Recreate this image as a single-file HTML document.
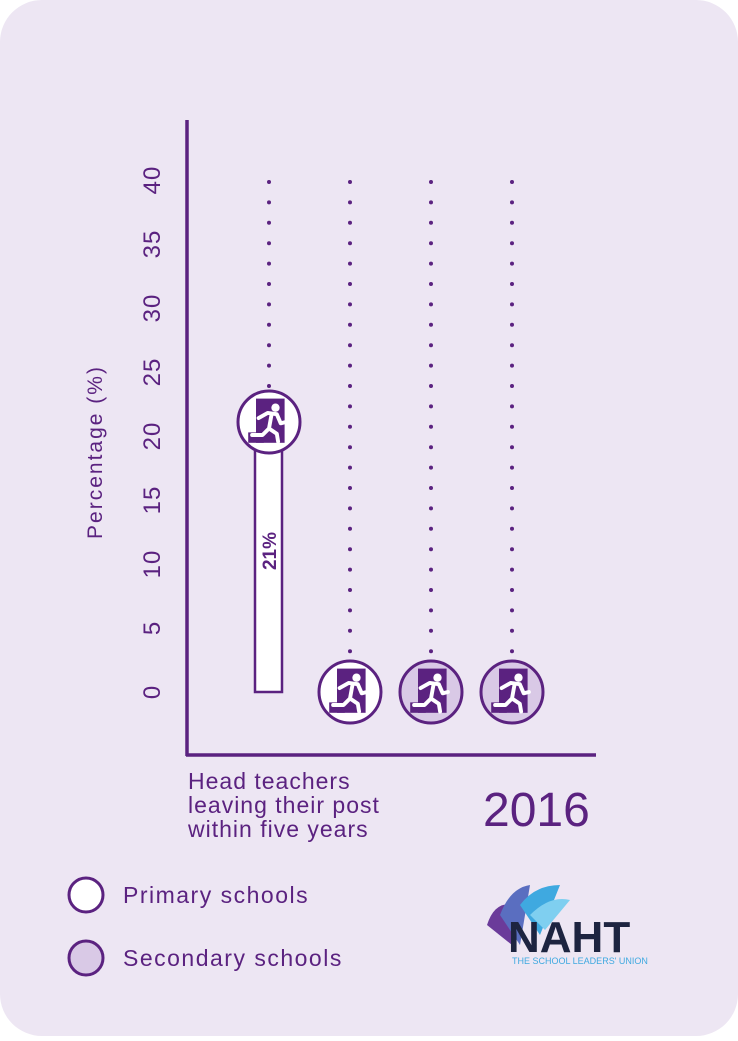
<!DOCTYPE html>
<html><head><style>
html,body{margin:0;padding:0;background:#fff;}
body{width:738px;height:1036px;overflow:hidden;}
</style></head><body>
<svg width="738" height="1036" viewBox="0 0 738 1036" xmlns="http://www.w3.org/2000/svg" font-family="Liberation Sans, sans-serif">
<defs>
<g id="ex">
<g transform="scale(1.3)">
<rect x="-10" y="-18" width="22" height="34" fill="#5b2280"/>
<rect x="-16" y="8" width="12" height="8" fill="#5b2280"/>
<circle cx="5" cy="-11" r="3.2" fill="#fff"/>
<path d="M-8,-3 L-1,-7 L6,-6 L9,1 L13,0 M2,-6 L0,5 L6,9 L7,15 M0,5 L-5,10 L-13,10" stroke="#fff" stroke-width="3" fill="none" stroke-linecap="round" stroke-linejoin="round"/>
</g>
</g>
</defs>
<rect x="0" y="0" width="738" height="1036" rx="42" fill="#ede6f3"/>
<g stroke="#5b2280" stroke-width="3.5">
<line x1="187" y1="120" x2="187" y2="756"/>
<line x1="186" y1="755" x2="596" y2="755"/>
</g>
<g fill="#5b2280" font-size="24" text-anchor="middle" letter-spacing="1">
<text transform="translate(160,692) rotate(-90)">0</text>
<text transform="translate(160,628) rotate(-90)">5</text>
<text transform="translate(160,564) rotate(-90)">10</text>
<text transform="translate(160,500) rotate(-90)">15</text>
<text transform="translate(160,436) rotate(-90)">20</text>
<text transform="translate(160,372) rotate(-90)">25</text>
<text transform="translate(160,308) rotate(-90)">30</text>
<text transform="translate(160,244) rotate(-90)">35</text>
<text transform="translate(160,180) rotate(-90)">40</text>
<text transform="translate(102,452) rotate(-90)" font-size="21" letter-spacing="2">Percentage (%)</text>
</g>
<g stroke="#5b2280" stroke-width="4" stroke-linecap="round" stroke-dasharray="0 20.4" fill="none">
<line x1="269" y1="182" x2="269" y2="390"/>
<line x1="350" y1="182" x2="350" y2="654"/>
<line x1="431" y1="182" x2="431" y2="654"/>
<line x1="512" y1="182" x2="512" y2="654"/>
</g>
<rect x="255" y="450" width="27" height="242" fill="#fff" stroke="#5b2280" stroke-width="2.5"/>
<text transform="translate(276,551) rotate(-90)" fill="#5b2280" font-size="19" font-weight="bold" text-anchor="middle">21%</text>
<circle cx="269" cy="422" r="31" fill="#fff" stroke="#5b2280" stroke-width="3"/>
<use href="#ex" x="269" y="422"/>
<circle cx="350" cy="692" r="31" fill="#fff" stroke="#5b2280" stroke-width="3"/>
<use href="#ex" x="350" y="692"/>
<circle cx="431" cy="692" r="31" fill="#d9c9e6" stroke="#5b2280" stroke-width="3"/>
<use href="#ex" x="431" y="692"/>
<circle cx="512" cy="692" r="31" fill="#d9c9e6" stroke="#5b2280" stroke-width="3"/>
<use href="#ex" x="512" y="692"/>
<g fill="#5b2280" font-size="23" letter-spacing="1">
<text x="188" y="789">Head teachers</text>
<text x="188" y="813">leaving their post</text>
<text x="188" y="837">within five years</text>
<text x="483" y="826" font-size="48" letter-spacing="0">2016</text>
<text x="123" y="903" letter-spacing="1.5">Primary schools</text>
<text x="123" y="966" letter-spacing="1.5">Secondary schools</text>
</g>
<circle cx="86" cy="895" r="17" fill="#fff" stroke="#5b2280" stroke-width="3"/>
<circle cx="86" cy="958" r="17" fill="#d9c9e6" stroke="#5b2280" stroke-width="3"/>
<g>
<path d="M487,925 Q495,900 515,905 L512,945 Z" fill="#6b3b9a"/>
<path d="M500,915 Q510,888 530,885 L520,945 Z" fill="#5a6ec0"/>
<path d="M520,905 Q535,885 560,885 L540,935 Z" fill="#3fa9e0"/>
<path d="M530,915 Q550,895 570,900 L545,930 Z" fill="#7fcff0"/>
</g>
<text x="508" y="952" font-size="44" font-weight="bold" fill="#1d2440">NAHT</text>
<text x="512" y="964" font-size="9" fill="#3fa9e0">THE SCHOOL LEADERS' UNION</text>
</svg>
</body></html>
